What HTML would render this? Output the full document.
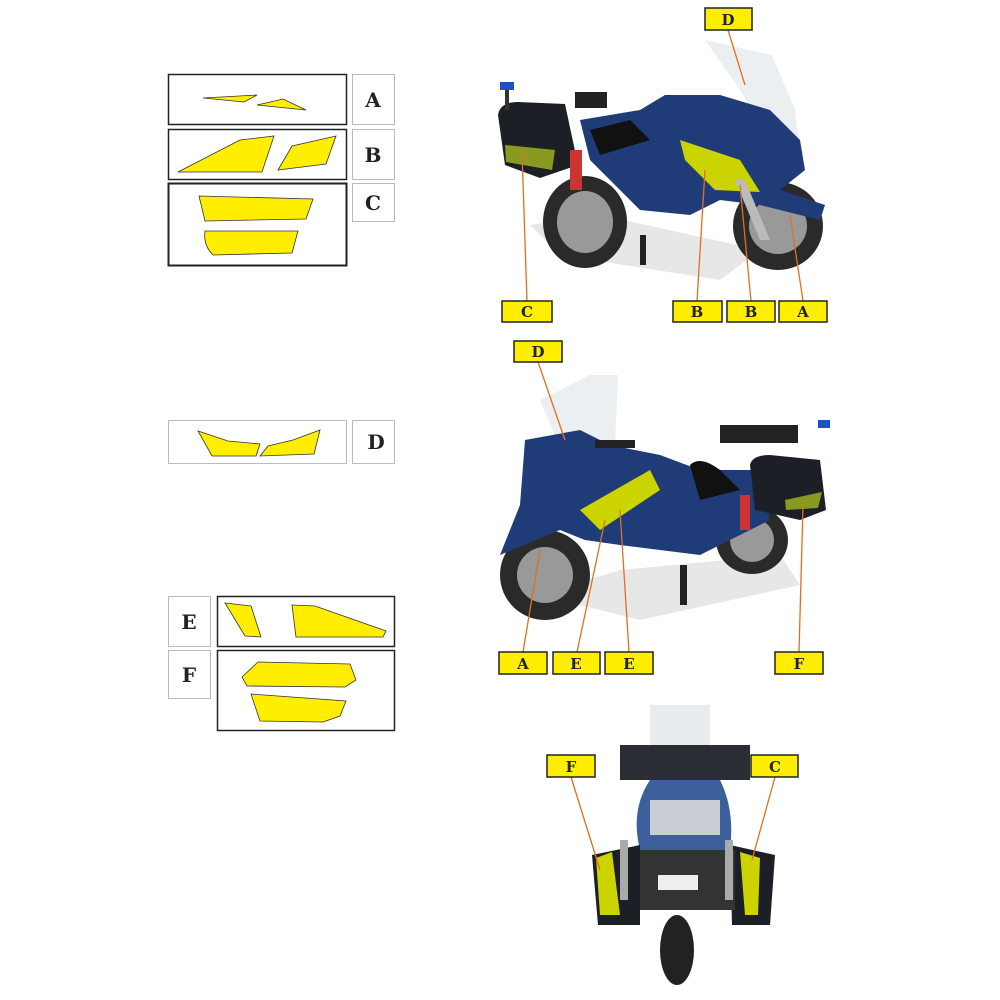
<!DOCTYPE html>
<html><head><meta charset="utf-8"><style>
html,body{margin:0;padding:0;background:#fff;}
svg{display:block}
text{font-family:"DejaVu Serif","Liberation Serif",serif;font-weight:bold;}
</style></head><body>
<svg width="1000" height="1000" viewBox="0 0 1000 1000" xmlns="http://www.w3.org/2000/svg">
<g fill="none" stroke="#222" stroke-width="1.5">
<rect x="168.5" y="74.5" width="178" height="50"/>
<rect x="168.5" y="129.5" width="178" height="50"/>
<rect x="168.5" y="183.5" width="178" height="82" stroke-width="2"/>
<rect x="217.5" y="596.5" width="177" height="50"/>
<rect x="217.5" y="650.5" width="177" height="80"/>
</g>
<g fill="none" stroke="#bbb" stroke-width="1">
<rect x="352.5" y="74.5" width="42" height="50"/>
<rect x="352.5" y="129.5" width="42" height="50"/>
<rect x="352.5" y="183.5" width="42" height="38"/>
<rect x="168.5" y="420.5" width="178" height="43"/>
<rect x="352.5" y="420.5" width="42" height="43"/>
<rect x="168.5" y="596.5" width="42" height="50"/>
<rect x="168.5" y="650.5" width="42" height="48"/>
</g>
<g font-size="20" fill="#222" text-anchor="middle">
<text x="373" y="107">A</text><text x="373" y="162">B</text><text x="373" y="210">C</text>
<text x="376" y="449">D</text><text x="189" y="629">E</text><text x="189" y="682">F</text>
</g>
<g fill="#ffee00" stroke="#333" stroke-width="0.8">
<polygon points="203,98 257,95 244,102"/>
<polygon points="257,105 283,99 306,110"/>
<polygon points="178,172 240,140 274,136 262,172"/>
<polygon points="278,170 292,146 336,136 326,164"/>
<path d="M199,196 L313,199 L306,219 L205,221 Z"/>
<path d="M205,231 L298,231 L292,253 L213,255 Q203,245 205,231 Z"/>
<polygon points="198,431 228,441 260,444 256,456 212,456"/>
<polygon points="260,456 268,446 293,440 320,430 314,454"/>
<polygon points="225,603 251,606 261,637 245,636"/>
<polygon points="292,605 315,606 386,631 383,637 296,637"/>
<path d="M242,677 L258,662 L350,664 L356,680 L345,687 L247,686 Z"/>
<path d="M251,694 L346,701 L340,716 L323,722 L260,721 Z"/>
</g>
<!-- bike 1 -->
<g>
<polygon points="530,225 600,215 760,250 720,280 560,255" fill="#ddd" opacity="0.7"/>
<polygon points="705,40 772,55 795,110 800,150 770,140 740,90" fill="#e8ecef" opacity="0.85"/>
<ellipse cx="585" cy="222" rx="42" ry="46" fill="#2a2a2a"/><ellipse cx="585" cy="222" rx="28" ry="31" fill="#999"/>
<ellipse cx="778" cy="226" rx="45" ry="44" fill="#2a2a2a"/><ellipse cx="778" cy="226" rx="29" ry="28" fill="#999"/>
<path d="M580,120 L640,110 L665,95 L720,95 L770,110 L800,140 L805,170 L780,190 L825,205 L820,220 L760,205 L720,200 L690,215 L640,210 L620,190 L590,160 Z" fill="#1f3c78"/>
<path d="M590,130 L630,120 L650,140 L600,155 Z" fill="#111"/>
<path d="M498,115 Q500,102 518,102 L565,104 L578,165 L540,178 L505,165 Z" fill="#1c1f26"/>
<polygon points="680,140 740,160 760,192 715,190 685,160" fill="#ccd400"/>
<polygon points="505,145 555,150 552,170 506,162" fill="#8a9a20"/>
<rect x="500" y="82" width="14" height="8" fill="#2050c0"/>
<rect x="505" y="90" width="4" height="20" fill="#333"/>
<rect x="575" y="92" width="32" height="16" fill="#222"/>
<rect x="570" y="150" width="12" height="40" fill="#c33"/>
<rect x="640" y="235" width="6" height="30" fill="#222"/>
<polygon points="735,180 745,180 770,240 760,240" fill="#bbb"/>
</g>
<!-- bike 2 -->
<g>
<polygon points="540,595 620,570 780,555 800,585 640,620" fill="#ddd" opacity="0.7"/>
<polygon points="540,400 590,375 618,375 615,445 570,470" fill="#e8ecef" opacity="0.85"/>
<ellipse cx="545" cy="575" rx="45" ry="45" fill="#2a2a2a"/><ellipse cx="545" cy="575" rx="28" ry="28" fill="#999"/>
<ellipse cx="752" cy="540" rx="36" ry="34" fill="#2a2a2a"/><ellipse cx="752" cy="540" rx="22" ry="22" fill="#999"/>
<path d="M525,440 L580,430 L610,445 L660,455 L700,470 L760,470 L770,520 L700,555 L620,545 L585,540 L560,530 L500,555 L520,505 Z" fill="#1f3c78"/>
<path d="M690,465 Q700,455 720,470 L740,490 L700,500 Z" fill="#111"/>
<path d="M750,465 Q752,455 770,455 L820,460 L826,510 L800,520 L755,510 Z" fill="#1c1f26"/>
<polygon points="785,500 822,492 818,508 786,510" fill="#8a9a20"/>
<polygon points="580,510 650,470 660,490 600,530" fill="#ccd400"/>
<rect x="720" y="425" width="78" height="18" fill="#222"/>
<rect x="818" y="420" width="12" height="8" fill="#2050c0"/>
<rect x="740" y="495" width="10" height="35" fill="#c33"/>
<rect x="680" y="565" width="7" height="40" fill="#222"/>
<rect x="595" y="440" width="40" height="8" fill="#222"/>
</g>
<!-- bike 3 rear -->
<g>
<rect x="650" y="705" width="60" height="40" fill="#e8ecef"/>
<rect x="620" y="745" width="130" height="35" fill="#2a2d33"/>
<path d="M650,780 L720,780 Q735,810 730,850 L640,850 Q630,810 650,780 Z" fill="#3a5f9a"/>
<rect x="650" y="800" width="70" height="35" fill="#c9cdd4"/>
<path d="M592,855 L640,845 L640,925 L598,925 Z" fill="#1c1f26"/>
<path d="M730,845 L775,855 L770,925 L732,925 Z" fill="#1c1f26"/>
<polygon points="596,858 612,852 620,915 600,915" fill="#ccd400"/>
<polygon points="740,852 760,858 758,915 745,915" fill="#ccd400"/>
<rect x="640" y="850" width="95" height="60" fill="#333"/>
<rect x="658" y="875" width="40" height="15" fill="#eee"/>
<ellipse cx="677" cy="950" rx="17" ry="35" fill="#222"/>
<rect x="620" y="840" width="8" height="60" fill="#aaa"/>
<rect x="725" y="840" width="8" height="60" fill="#aaa"/>
</g>
<!-- leader lines -->
<g stroke="#e07020" stroke-width="1.3" fill="none">
<line x1="728" y1="30" x2="745" y2="85"/>
<line x1="527" y1="301" x2="522" y2="152"/>
<line x1="697" y1="301" x2="705" y2="170"/>
<line x1="751" y1="301" x2="740" y2="185"/>
<line x1="803" y1="301" x2="790" y2="215"/>
<line x1="538" y1="362" x2="565" y2="440"/>
<line x1="523" y1="652" x2="540" y2="550"/>
<line x1="577" y1="652" x2="605" y2="520"/>
<line x1="629" y1="652" x2="620" y2="510"/>
<line x1="799" y1="652" x2="803" y2="505"/>
<line x1="571" y1="777" x2="600" y2="870"/>
<line x1="775" y1="777" x2="752" y2="860"/>
</g>
<g stroke="#222" stroke-width="1.5" fill="#ffee00">
<rect x="705" y="8" width="47" height="22"/>
<rect x="502" y="301" width="50" height="21"/>
<rect x="673" y="301" width="49" height="21"/>
<rect x="727" y="301" width="48" height="21"/>
<rect x="779" y="301" width="48" height="21"/>
<rect x="514" y="341" width="48" height="21"/>
<rect x="499" y="652" width="48" height="22"/>
<rect x="553" y="652" width="47" height="22"/>
<rect x="605" y="652" width="48" height="22"/>
<rect x="775" y="652" width="48" height="22"/>
<rect x="547" y="755" width="48" height="22"/>
<rect x="751" y="755" width="47" height="22"/>
</g>
<g font-size="15" fill="#222" text-anchor="middle">
<text x="728" y="25">D</text><text x="527" y="317">C</text><text x="697" y="317">B</text>
<text x="751" y="317">B</text><text x="803" y="317">A</text><text x="538" y="357">D</text>
<text x="523" y="669">A</text><text x="576" y="669">E</text><text x="629" y="669">E</text>
<text x="799" y="669">F</text><text x="571" y="772">F</text><text x="775" y="772">C</text>
</g>
</svg>
</body></html>
